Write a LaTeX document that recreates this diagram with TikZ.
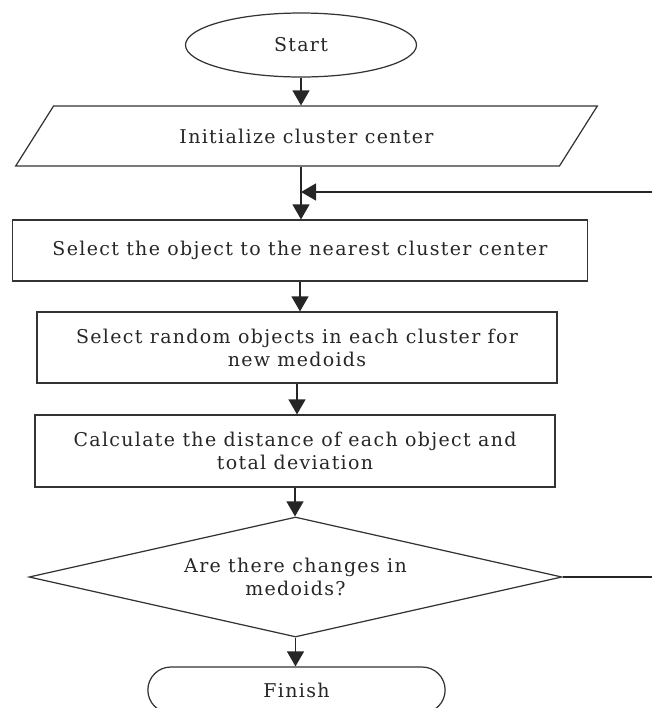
\documentclass[tikz,border=0pt]{standalone}
\usepackage{fontspec}
\setmainfont[LetterSpace=7]{DejaVu Serif}
\usepackage{tikz}
\usetikzlibrary{arrows.meta,positioning,shapes.geometric,shapes.misc}

\begin{document}
\begin{tikzpicture}[
  every node/.style={font=\fontsize{10.8}{13}\selectfont, text=black!85},
  box/.style={draw=black!80, line width=0.7pt, minimum width=#1, align=center,
              inner sep=2pt},
  term/.style={draw=black!80, line width=0.7pt, ellipse, minimum width=4.62cm,
               minimum height=1.28cm},
  io/.style={draw=black!80, line width=0.7pt, trapezium, trapezium left angle=53,
             trapezium right angle=127, trapezium stretches=true,
             minimum width=11.66cm, minimum height=1.2cm},
  decide/.style={draw=black!80, line width=0.7pt, diamond, aspect=4.4, align=center,
                 minimum width=10.66cm, minimum height=2.4cm, inner sep=0pt},
  ends/.style={draw=black!80, line width=0.7pt, rounded rectangle,
               minimum width=6.18cm, minimum height=0.92cm},
  arr/.style={-{Triangle[length=0.3cm,width=0.34cm]}, line width=0.7pt, black!85}
]
\useasboundingbox (0,0) rectangle (13.04,-14.16);

%% ---- Flow ----
\node[term]                         (start) at (6.02,-0.90)  {Start};
\node[io]                           (init)  at (6.13,-2.72)  {Initialize cluster center};
\node[box=11.5cm, minimum height=1.22cm]  (sel)  at (6.00,-5.01)
  {Select the object to the nearest cluster center};
\node[box=10.4cm, minimum height=1.42cm]  (rnd)  at (5.94,-6.95)
  {Select random objects in each cluster for\\new medoids};
\node[box=10.4cm, minimum height=1.44cm]  (calc) at (5.90,-9.02)
  {Calculate the distance of each object and\\total deviation};
\node[decide]                       (chg)   at (5.91,-11.54) {Are there changes in\\medoids?};
\node[ends]                         (fin)   at (5.93,-13.80) {Finish};

%% loop back point
\coordinate (join) at (6.02,-3.84);
\coordinate (back) at (13.6,-3.84);

%% arrows
\draw[arr] (start.south) -- (start.south |- init.north);
\draw[arr] (start.south |- init.south) -- (start.south |- sel.north);
\foreach \x/\y in {sel/rnd, rnd/calc, calc/chg, chg/fin}
  \draw[arr] (\x.south) -- (\x.south |- \y.north);

%% No: back to assignment
\draw[arr] (chg.east) -| (back) -- (join);

\end{tikzpicture}
\end{document}
